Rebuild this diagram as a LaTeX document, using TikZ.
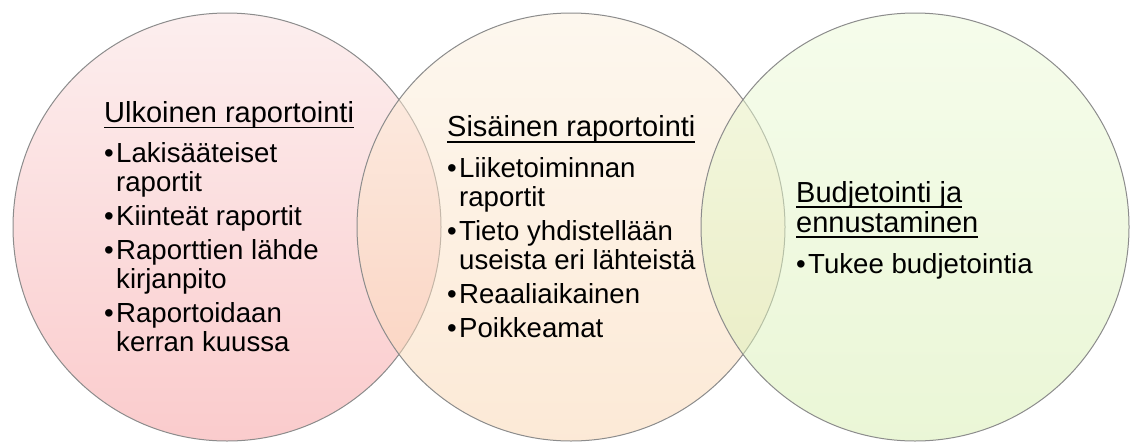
\documentclass[tikz,border=0pt]{standalone}
\usepackage{fontspec}
\setmainfont{Liberation Sans}
% underline at a fixed depth below the baseline
\newcommand\ulbox[1]{\setbox0=\hbox{#1}\rlap{\rule[-5.6pt]{\wd0}{1.6pt}}\box0}
\newcommand\bul{\makebox[12pt][l]{•}}
\newcommand\ind{\hspace*{12pt}}
\newcommand\ttl[1]{{\fontsize{29}{30}\selectfont\ulbox{#1}}}
\begin{document}
\begin{tikzpicture}[x=1pt,y=-1pt,
  ring/.style={circle, minimum size=428pt, inner sep=0pt, draw=black!45,
    line width=1pt, fill opacity=0.5},
  blk/.style={anchor=base west, inner sep=0pt, align=left,
    font=\fontsize{27.6}{28.7}\selectfont}]
\fill[white] (0,0) rectangle (1131,442);
\useasboundingbox (0,0) rectangle (1131,442);
% the three overlapping circles
\node[ring, top color={rgb,255:red,251;green,223;blue,223},
  bottom color={rgb,255:red,247;green,153;blue,155}] (ext) at (227,227) {};
\node[ring, top color={rgb,255:red,253;green,241;blue,223},
  bottom color={rgb,255:red,251;green,213;blue,175}] (int) at (571,227) {};
\node[ring, top color={rgb,255:red,237;green,251;blue,217},
  bottom color={rgb,255:red,215;green,239;blue,175}] (bud) at (915,227) {};
% texts (each node is anchored on the baseline of its last line)
\node[blk] (extt) at (104,351) {\ttl{Ulkoinen raportointi}\\[11.5pt]
  \bul Lakisääteiset\\ \ind raportit\\[5.3pt]
  \bul Kiinteät raportit\\[5.3pt]
  \bul Raporttien lähde\\ \ind kirjanpito\\[5.3pt]
  \bul Raportoidaan\\ \ind kerran kuussa};
\node[blk] (intt) at (447,337) {\ttl{Sisäinen raportointi}\\[12pt]
  \bul Liiketoiminnan\\ \ind raportit\\[5.3pt]
  \bul Tieto yhdistellään\\ \ind useista eri lähteistä\\[5.3pt]
  \bul Reaaliaikainen\\[5.3pt]
  \bul Poikkeamat};
\node[blk] (budt) at (796,273) {\ttl{Budjetointi ja}\\[1.3pt]
  \ttl{ennustaminen}\\[12.3pt]
  \bul Tukee budjetointia};
\end{tikzpicture}
\end{document}
